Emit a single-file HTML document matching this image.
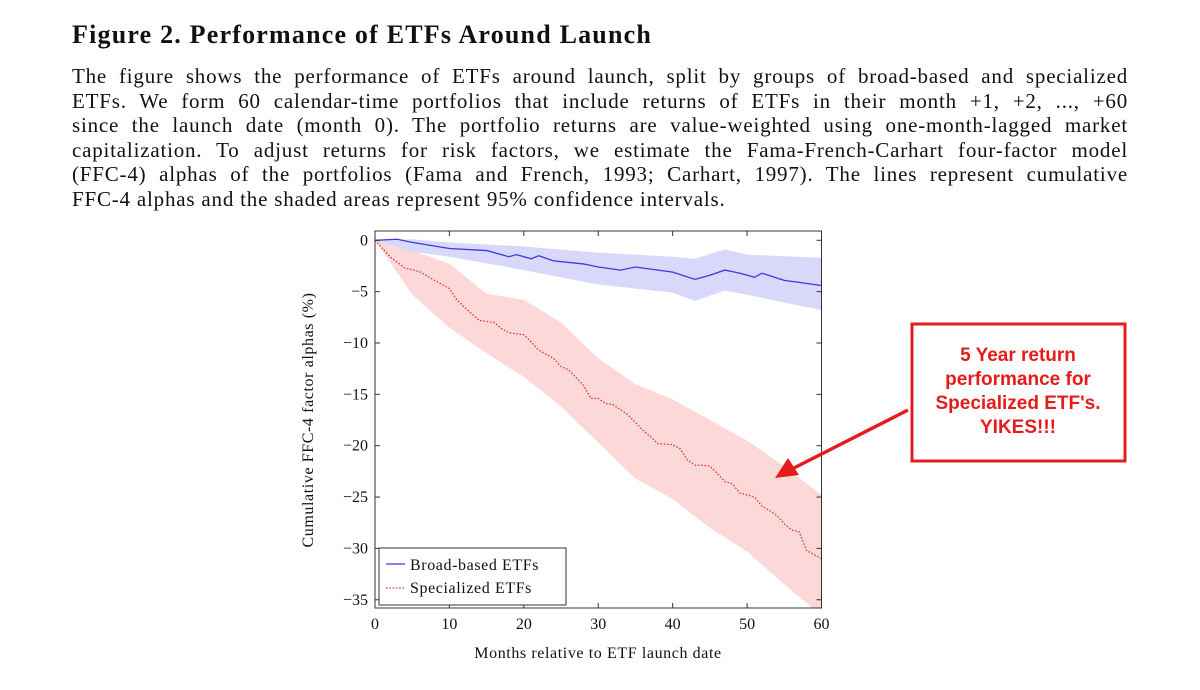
<!DOCTYPE html>
<html><head><meta charset="utf-8"><style>
body{margin:0;width:1200px;height:690px;background:#fff;overflow:hidden;position:relative;font-family:"Liberation Serif",serif;color:#111}
#title{position:absolute;left:72px;top:20px;font-size:26px;font-weight:bold;letter-spacing:1.2px}
#para{position:absolute;left:72px;top:64px;width:1056px;font-size:21px;line-height:24.5px;letter-spacing:0.8px}
#para div{text-align:justify;text-align-last:justify;white-space:nowrap;overflow:visible}
#para div.last{text-align-last:left}
svg{position:absolute;left:0;top:0}
</style></head><body>
<div id="title">Figure 2. Performance of ETFs Around Launch</div>
<div id="para">
<div>The figure shows the performance of ETFs around launch, split by groups of broad-based and specialized</div>
<div>ETFs. We form 60 calendar-time portfolios that include returns of ETFs in their month +1, +2, ..., +60</div>
<div>since the launch date (month 0). The portfolio returns are value-weighted using one-month-lagged market</div>
<div>capitalization. To adjust returns for risk factors, we estimate the Fama-French-Carhart four-factor model</div>
<div>(FFC-4) alphas of the portfolios (Fama and French, 1993; Carhart, 1997). The lines represent cumulative</div>
<div class="last">FFC-4 alphas and the shaded areas represent 95% confidence intervals.</div>
</div>
<svg id="chart" width="1200" height="690"></svg>
<script>
const broadX=[0,3,5,10,15,18,19,21,22,24,28,30,33,35,40,43,45,47,49,51,52,55,57,60];
const broadY=[0,0.1,-0.2,-0.8,-1.0,-1.6,-1.4,-1.8,-1.5,-2.0,-2.3,-2.6,-2.9,-2.6,-3.1,-3.8,-3.4,-2.9,-3.2,-3.6,-3.2,-3.9,-4.1,-4.4];
const broadBandX=[0,5,10,20,30,40,43,47,50,60];
const broadUpper=[0,0.1,-0.2,-0.6,-1.2,-1.6,-1.8,-0.9,-1.4,-1.7];
const broadLower=[0,-1.1,-1.6,-2.9,-4.3,-5.1,-5.9,-4.9,-5.3,-6.8];
const specX=[0,2,4,6,8,10,11,12,14,16,17,18,20,21,22,24,25,26,28,29,30,31,32,34,36,37,38,40,41,42,43,44,45,46,47,48,49,50,51,52,53,54,55,56,57,58,59,60];
const specY=[0,-1.6,-2.7,-3.05,-3.9,-4.7,-5.8,-6.5,-7.8,-8,-8.6,-9,-9.2,-9.9,-10.7,-11.5,-12.3,-12.6,-14.1,-15.4,-15.4,-15.9,-16,-17,-18.5,-19.1,-19.8,-19.9,-20.3,-21.4,-21.9,-21.9,-22,-22.7,-23.5,-23.7,-24.6,-24.8,-25,-25.9,-26.3,-26.8,-27.6,-28.2,-28.4,-30.2,-30.6,-31];
const specBandX=[0,5,10,15,20,25,30,35,40,45,50,55,60];
const specUpper=[0,-1.0,-2.3,-5.2,-5.8,-8.0,-11.5,-14,-15.5,-17.5,-19.5,-22,-24.8];
const specLower=[0,-5.3,-8.5,-11,-13.3,-16.2,-19.7,-23.2,-25.2,-28,-30.3,-33.5,-36.5];
const xTicks=[0,10,20,30,40,50,60];
const yTicks=[0,-5,-10,-15,-20,-25,-30,-35];

const L=375,R=821.5,T=231,B=608;
const xs=v=>L+v*(R-L)/60;
const ysy=v=>240.3+(-v)*10.27;
const NS='http://www.w3.org/2000/svg';
const svg=document.getElementById('chart');
function mk(tag,attrs,parent){const e=document.createElementNS(NS,tag);for(const k in attrs)e.setAttribute(k,attrs[k]);(parent||svg).appendChild(e);return e;}
const defs=mk('defs',{});
const cp=mk('clipPath',{id:'clip'},defs);mk('rect',{x:L,y:T,width:R-L,height:B-T},cp);
const g=mk('g',{'clip-path':'url(#clip)'});
function band(X,U,Lo,fill,name){
  let d='M'+X.map((x,i)=>xs(x)+','+ysy(U[i])).join('L');
  for(let i=X.length-1;i>=0;i--)d+='L'+xs(X[i])+','+ysy(Lo[i]);
  const p=mk('path',{d:d+'Z',fill:fill,stroke:'none'},g);
  
  
}
function line(X,Y,stroke,dash,name){
  const p=mk('path',{d:'M'+X.map((x,i)=>xs(x)+','+ysy(Y[i])).join('L'),fill:'none',stroke:stroke,'stroke-width':1.3,'stroke-dasharray':dash},g);
  
  
}
band(specBandX,specUpper,specLower,'#fdd8d8','specialized-ci-band');
band(broadBandX,broadUpper,broadLower,'#d8d8fb','broad-ci-band');
line(specX,specY,'#e03030','1.5,1.8','specialized-line');
line(broadX,broadY,'#3a3ae0','none','broad-line');
const frame=mk('rect',{x:L,y:T,width:R-L,height:B-T,fill:'none',stroke:'#333','stroke-width':1});


xTicks.forEach(t=>{
  mk('line',{x1:xs(t),x2:xs(t),y1:B,y2:B-5,stroke:'#333'});
  mk('line',{x1:xs(t),x2:xs(t),y1:T,y2:T+5,stroke:'#333'});
  const tx=mk('text',{x:xs(t),y:B+21,'text-anchor':'middle','font-size':16,'font-family':'Liberation Serif, serif',fill:'#111'});
  tx.textContent=t;
  
  
});
yTicks.forEach(t=>{
  mk('line',{x1:L,x2:L+5,y1:ysy(t),y2:ysy(t),stroke:'#333'});
  mk('line',{x1:R,x2:R-5,y1:ysy(t),y2:ysy(t),stroke:'#333'});
  const tx=mk('text',{x:L-7,y:ysy(t)+5,'text-anchor':'end','font-size':16,'font-family':'Liberation Serif, serif',fill:'#111'});
  tx.textContent=t===0?'0':'\u2212'+(-t);
  
  
});
const xt=mk('text',{x:598,y:658,'text-anchor':'middle','font-size':16,'font-family':'Liberation Serif, serif',fill:'#111','letter-spacing':0.6});
xt.textContent='Months relative to ETF launch date';


const yt=mk('text',{x:0,y:0,'text-anchor':'middle','font-size':16,'font-family':'Liberation Serif, serif',fill:'#111','letter-spacing':0.6,transform:'translate(313,420) rotate(-90)'});
yt.textContent='Cumulative FFC-4 factor alphas (%)';


const lg=mk('g',{});


mk('rect',{x:379,y:548,width:187,height:57,fill:'#fff',stroke:'#333'},lg);
mk('line',{x1:386,x2:405,y1:564,y2:564,stroke:'#3a3ae0','stroke-width':1.3},lg);
mk('line',{x1:386,x2:405,y1:588,y2:588,stroke:'#e03030','stroke-width':1.3,'stroke-dasharray':'1.5,1.8'},lg);
const l1=mk('text',{x:410,y:570,'font-size':16,'font-family':'Liberation Serif, serif',fill:'#111','letter-spacing':0.6},lg);l1.textContent='Broad-based ETFs';


const l2=mk('text',{x:410,y:593,'font-size':16,'font-family':'Liberation Serif, serif',fill:'#111','letter-spacing':0.6},lg);l2.textContent='Specialized ETFs';


const ann=mk('g',{});


mk('rect',{x:912,y:324,width:213,height:137,fill:'#fff',stroke:'#e51c1c','stroke-width':3},ann);
['5 Year return','performance for',"Specialized ETF's.",'YIKES!!!'].forEach((s,i)=>{
  const t=mk('text',{x:1018,y:361+i*24,'text-anchor':'middle','font-size':19,'font-weight':'bold','font-family':'Liberation Sans, sans-serif',fill:'#e51c1c'},ann);
  t.textContent=s;
});
mk('line',{x1:908,x2:792,y1:410,y2:469,stroke:'#e51c1c','stroke-width':3.5},ann);
mk('polygon',{points:'775,478 788,458 799,475',fill:'#e51c1c'},ann);
</script>
</body></html>
